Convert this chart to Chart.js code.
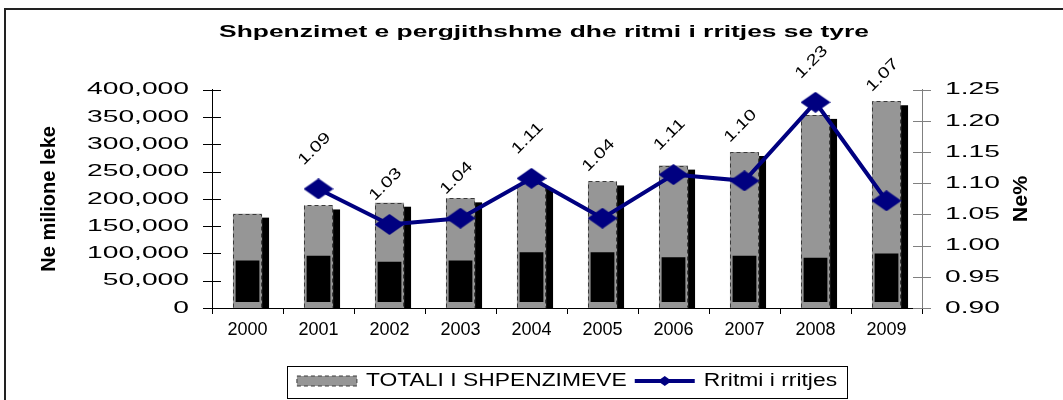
<!DOCTYPE html>
<html>
<head>
<meta charset="utf-8">
<script src="https://cdn.jsdelivr.net/npm/chart.js@4.4.0/dist/chart.umd.min.js"></script>
<style>
html,body{margin:0;padding:0;background:#fff;overflow:hidden}
canvas{display:block}
</style>
</head>
<body>
<canvas id="c" width="1063" height="400"></canvas>
<script>
// ---- data ----
const categories = ['2000','2001','2002','2003','2004','2005','2006','2007','2008','2009'];
const totalSpending = [173000, 188000, 193000, 201000, 227000, 232000, 261000, 286000, 354000, 379000];
const innerBlockTop = [87000, 96000, 85000, 87000, 102000, 102000, 93000, 96000, 92000, 100000];
const innerBlockBase = 11000;
const growthRate = [null, 1.091, 1.034, 1.044, 1.108, 1.044, 1.114, 1.104, 1.23, 1.072];
const leftTicks = [0, 50000, 100000, 150000, 200000, 250000, 300000, 350000, 400000];
const rightTicks = [0.90, 0.95, 1.00, 1.05, 1.10, 1.15, 1.20, 1.25];
const titleText = 'Shpenzimet e pergjithshme dhe ritmi i rritjes se tyre';
const leftAxisTitle = 'Ne milione leke';
const rightAxisTitle = 'Ne%';
const barLabel = 'TOTALI I SHPENZIMEVE';
const lineLabel = 'Rritmi i rritjes';

// ---- horizontal text stretch (the original rendering is widened) ----
const FAMILY = "'Liberation Sans', Arial, sans-serif";
const FONT_STRETCH = {'16.5': 1.6, '17': 1.66, '18': 1.27, '15.5': 1.3, '19.5': 1.1, '17.5': 1.03};
function stretchFor(font) {
  const m = /([\d.]+)px/.exec(font);
  return (m && FONT_STRETCH[m[1]]) || 1;
}
const canvas = document.getElementById('c');
const ctx = canvas.getContext('2d');
const oFill = ctx.fillText, oMeasure = ctx.measureText;
ctx.fillText = function (t, x, y, mw) {
  const s = stretchFor(this.font);
  if (s === 1) { return mw === undefined ? oFill.call(this, t, x, y) : oFill.call(this, t, x, y, mw); }
  this.save(); this.translate(x, y); this.scale(s, 1);
  if (mw === undefined) oFill.call(this, t, 0, 0); else oFill.call(this, t, 0, 0, mw / s);
  this.restore();
};
ctx.measureText = function (t) {
  const m = oMeasure.call(this, t);
  const s = stretchFor(this.font);
  if (s === 1) return m;
  return {
    width: m.width * s,
    actualBoundingBoxAscent: m.actualBoundingBoxAscent,
    actualBoundingBoxDescent: m.actualBoundingBoxDescent,
    actualBoundingBoxLeft: m.actualBoundingBoxLeft * s,
    actualBoundingBoxRight: m.actualBoundingBoxRight * s,
    fontBoundingBoxAscent: m.fontBoundingBoxAscent,
    fontBoundingBoxDescent: m.fontBoundingBoxDescent
  };
};

// diamond marker
function makeDiamond(w, h) {
  const c = document.createElement('canvas');
  c.width = w; c.height = h;
  const g = c.getContext('2d');
  g.fillStyle = '#000080';
  g.beginPath();
  g.moveTo(w / 2, 0); g.lineTo(w, h / 2); g.lineTo(w / 2, h); g.lineTo(0, h / 2); g.closePath();
  g.fill();
  return c;
}
const diamond = makeDiamond(30, 21);

const NAVY = '#000080';
const BAR_GRAY = '#969696';

const decorPlugin = {
  id: 'decor',
  beforeDraw(chart) {
    const c = chart.ctx;
    c.save();
    c.fillStyle = '#fff';
    c.fillRect(0, 0, chart.width, chart.height);
    c.strokeStyle = '#222';
    c.lineWidth = 2;
    c.beginPath();
    c.moveTo(5, chart.height + 2); c.lineTo(5, 9); c.lineTo(chart.width + 2, 9);
    c.stroke();
    c.restore();
  },
  beforeDatasetDraw(chart, args) {
    if (args.index !== 2) return;
    const c = chart.ctx;
    const meta = chart.getDatasetMeta(2);
    c.save();
    c.fillStyle = '#000';
    meta.data.forEach(b => {
      const right = b.x + b.width / 2;
      c.fillRect(right, b.y + 4, 7, b.base - b.y - 4);
    });
    c.restore();
  },
  afterDatasetDraw(chart, args) {
    if (args.index !== 2) return;
    const c = chart.ctx;
    const meta = chart.getDatasetMeta(2);
    c.save();
    c.strokeStyle = '#3a3a3a';
    c.lineWidth = 1;
    c.setLineDash([4, 3]);
    meta.data.forEach(b => {
      const l = Math.round(b.x - b.width / 2) + 0.5;
      const r = Math.round(b.x + b.width / 2) - 0.5;
      const t = Math.round(b.y) + 0.5;
      const btm = Math.round(b.base) - 0.5;
      c.beginPath();
      c.moveTo(l, btm); c.lineTo(l, t); c.lineTo(r, t); c.lineTo(r, btm);
      c.stroke();
    });
    c.restore();
  },
  afterDatasetsDraw(chart) {
    const c = chart.ctx;
    const lineMeta = chart.getDatasetMeta(0);
    const barMeta = chart.getDatasetMeta(2);
    c.save();
    c.font = '15.5px ' + FAMILY;
    c.fillStyle = '#000';
    c.textAlign = 'center';
    c.textBaseline = 'middle';
    growthRate.forEach((v, i) => {
      if (v === null) return;
      const p = lineMeta.data[i];
      const b = barMeta.data[i];
      let ly = p.y - 40;
      if (p.y - b.y > 25) ly = b.y - 26;
      c.save();
      c.translate(p.x - 4, ly);
      c.rotate(-Math.PI / 4);
      c.fillText(v.toFixed(2), 0, 0);
      c.restore();
    });
    c.restore();
  },
  afterDraw(chart) {
    const c = chart.ctx;
    const area = chart.chartArea;
    // y tick marks crossing the axes
    const ys = chart.scales.y, y1 = chart.scales.y1;
    c.save();
    c.lineWidth = 1;
    c.strokeStyle = '#000';
    ys.ticks.forEach(t => {
      const py = Math.round(ys.getPixelForValue(t.value)) + 0.5;
      c.beginPath(); c.moveTo(area.left - 9, py); c.lineTo(area.left + 9, py); c.stroke();
    });
    c.strokeStyle = '#808080';
    y1.ticks.forEach(t => {
      const py = Math.round(y1.getPixelForValue(t.value)) + 0.5;
      c.beginPath(); c.moveTo(area.right - 9, py); c.lineTo(area.right + 9, py); c.stroke();
    });
    // axis titles
    c.fillStyle = '#000';
    c.textAlign = 'center';
    c.textBaseline = 'middle';
    const cy = (area.top + area.bottom) / 2;
    c.font = 'bold 20px ' + FAMILY;
    c.save(); c.translate(ys.left + 24, cy); c.rotate(-Math.PI / 2); c.fillText(leftAxisTitle, 0, 0); c.restore();
    c.font = 'bold 19.5px ' + FAMILY;
    c.save(); c.translate(y1.right - 41, cy); c.rotate(-Math.PI / 2); c.fillText(rightAxisTitle, 0, 0); c.restore();
    // legend: line symbol + border
    const lg = chart.legend;
    if (lg && lg.legendHitBoxes && lg.legendHitBoxes.length === 2) {
      const h0 = lg.legendHitBoxes[0], h1 = lg.legendHitBoxes[1];
      const cyl = h1.top + h1.height / 2;
      c.strokeStyle = NAVY;
      c.lineWidth = 4;
      c.beginPath(); c.moveTo(h1.left, cyl); c.lineTo(h1.left + 60, cyl); c.stroke();
      c.fillStyle = NAVY;
      const dx = h1.left + 30;
      c.beginPath(); c.moveTo(dx, cyl - 5); c.lineTo(dx + 7, cyl); c.lineTo(dx, cyl + 5); c.lineTo(dx - 7, cyl); c.closePath(); c.fill();
      c.strokeStyle = '#000';
      c.lineWidth = 1;
      const bl = Math.round(h0.left - 10) + 0.5;
      const br = Math.round(h1.left + h1.width + 10) + 0.5;
      const bt = Math.round(cyl - 15) + 0.5;
      const bb = Math.round(cyl + 17) + 0.5;
      c.strokeRect(bl, bt, br - bl, bb - bt);
    }
    c.restore();
  }
};

Chart.defaults.font.family = FAMILY;
Chart.defaults.color = '#000';

new Chart(ctx, {
  data: {
    labels: categories,
    datasets: [
      {
        type: 'line', label: lineLabel, data: growthRate, yAxisID: 'y1',
        borderColor: NAVY, backgroundColor: NAVY, borderWidth: 4,
        pointStyle: diamond, pointRadius: 10, pointHoverRadius: 10,
        tension: 0, spanGaps: false, order: 0
      },
      {
        type: 'bar', label: 'inner', data: innerBlockTop.map(v => [innerBlockBase, v]), yAxisID: 'y',
        backgroundColor: '#000', borderWidth: 0,
        barPercentage: 0.335, categoryPercentage: 1, grouped: false, order: 1
      },
      {
        type: 'bar', label: barLabel, data: totalSpending, yAxisID: 'y',
        backgroundColor: BAR_GRAY, borderWidth: 0,
        barPercentage: 0.41, categoryPercentage: 1, grouped: false, order: 2
      }
    ]
  },
  options: {
    responsive: false,
    animation: false,
    devicePixelRatio: 1,
    events: [],
    layout: { padding: { left: 25, right: 0, top: 0, bottom: 0 } },
    plugins: {
      tooltip: { enabled: false },
      title: {
        display: true, text: titleText, color: '#000',
        font: { size: 16.5, weight: 'bold', family: FAMILY },
        padding: { top: 23, bottom: 47 }
      },
      legend: {
        display: true, position: 'bottom', fullSize: false,
        labels: {
          font: { size: 18, family: FAMILY }, color: '#000',
          boxWidth: 60, boxHeight: 10, padding: 8,
          generateLabels() {
            return [
              { text: barLabel, fillStyle: BAR_GRAY, strokeStyle: '#3a3a3a', lineWidth: 1, lineDash: [4, 3], datasetIndex: 2, hidden: false },
              { text: lineLabel, fillStyle: 'rgba(0,0,0,0)', strokeStyle: 'rgba(0,0,0,0)', lineWidth: 0, datasetIndex: 0, hidden: false }
            ];
          }
        }
      }
    },
    scales: {
      x: {
        offset: true,
        grid: { display: true, drawOnChartArea: false, drawTicks: true, tickLength: 6, offset: true, color: '#000' },
        border: { display: true, color: '#000', width: 1 },
        ticks: { font: { size: 17.5, family: FAMILY }, color: '#000', padding: 6, maxRotation: 0, autoSkip: false },
        afterFit(s) { s.height = 56; }
      },
      y: {
        position: 'left', min: 0, max: 400000,
        afterBuildTicks(s) { s.ticks = leftTicks.map(v => ({ value: v })); },
        grid: { display: false, drawTicks: false },
        border: { display: true, color: '#000', width: 1 },
        ticks: { font: { size: 17, family: FAMILY }, color: '#000', padding: 23, callback: v => Number(v).toLocaleString('en-US') },
        afterFit(s) { s.width = 187; }
      },
      y1: {
        position: 'right', min: 0.9, max: 1.25,
        afterBuildTicks(s) { s.ticks = rightTicks.map(v => ({ value: v })); },
        grid: { display: false, drawTicks: false },
        border: { display: true, color: '#808080', width: 1 },
        ticks: { font: { size: 17, family: FAMILY }, color: '#000', padding: 23, callback: v => Number(v).toFixed(2) },
        afterFit(s) { s.width = 141; }
      }
    }
  },
  plugins: [decorPlugin]
});
</script>
</body>
</html>
